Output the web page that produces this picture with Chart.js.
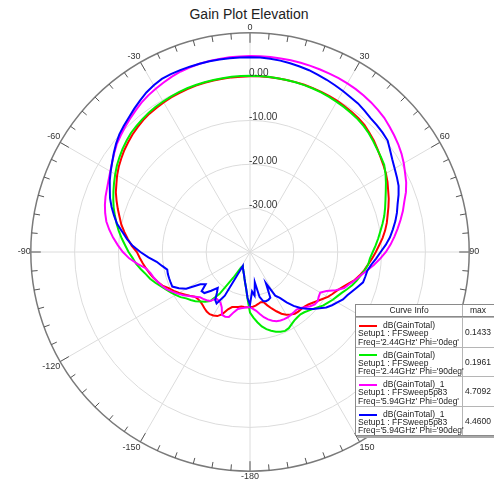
<!DOCTYPE html>
<html>
<head>
<meta charset="utf-8">
<title>Gain Plot Elevation</title>
<script src="https://cdn.jsdelivr.net/npm/chart.js"></script>
<style>
  html, body { margin: 0; padding: 0; background: #fff; overflow: hidden; width: 494px; height: 482px; }
  body { position: relative; font-family: "Liberation Sans", Arial, sans-serif; }
  #title { position: absolute; left: 0; top: 6px; width: 498px; text-align: center; font-size: 14px; color: #222; }
  #wrap { position: absolute; left: 3px; top: 0; width: 494px; height: 500px; }
  #legend { position: absolute; left: 355px; top: 304px; width: 150px; background: #fff;
            border: 1px solid #8a8a8a; box-shadow: 2px 2px 0 #a8a8a8; font-size: 8.5px; color: #222; }
  .head { display: flex; height: 11px; line-height: 11px; border-bottom: 1px solid #8a8a8a; }
  .row { display: flex; height: 28.6px; border-top: 1px solid #b5b5b5; }
  .row:first-of-type { border-top: none; }
  .c1 { width: 107px; border-right: 1px solid #b5b5b5; padding-left: 2px; box-sizing: border-box; }
  .c2 { flex: 1; padding-left: 2px; }
  .head .c1, .head .c2 { text-align: center; padding-left: 0; }
  .head .c2 { width: 30px; flex: none; }
  .row .c1 { padding-top: 3px; line-height: 8.3px; white-space: nowrap; }
  .row .c2 { line-height: 28.6px; }
  .swatch { display: inline-block; width: 18px; height: 2px; vertical-align: middle; margin: 0 6px 0 1px; }
</style>
</head>
<body>
<div id="title">Gain Plot Elevation</div>
<div id="wrap"><canvas id="gainPlot"></canvas></div>
<div id="legend"></div>
<script>
// theta in degrees, -180 .. 177 in 3 degree steps
const angles = [];
for (let a = -180; a < 180; a += 3) angles.push(a);

const ringLabels = [0, -10, -20, -30];

const gainRed = [
  -27.4, -27.4, -27.4, -27.4, -27.2, -27.0, -26.8, -26.0, -24.5, -23.6,
  -23.3, -23.1, -23.2, -23.5, -23.8, -24.0, -24.0, -23.8, -23.0, -22.2,
  -21.3, -20.5, -19.7, -18.6, -17.9, -17.2, -16.6, -16.0, -15.4, -14.8,
  -14.2, -13.0, -12.0, -11.0, -10.0, -9.2, -8.3, -7.4, -6.5, -5.8,
  -5.0, -4.3, -3.7, -3.1, -2.6, -2.1, -1.7, -1.3, -1.0, -0.8,
  -0.6, -0.4, -0.3, -0.2, -0.1, -0.05, 0.0, 0.0, 0.05, 0.05,
  0.1, 0.12, 0.14, 0.14, 0.13, 0.12, 0.1, 0.05, 0.0, -0.1,
  -0.2, -0.35, -0.5, -0.7, -1.0, -1.5, -2.0, -2.6, -3.2, -3.7,
  -4.2, -4.8, -5.5, -6.1, -6.8, -7.5, -8.1, -8.8, -9.6, -10.5,
  -11.3, -12.1, -12.9, -13.6, -14.4, -15.3, -16.5, -17.5, -18.3, -18.9,
  -19.5, -20.3, -21.0, -21.6, -22.1, -22.4, -22.5, -22.5, -22.6, -23.0,
  -23.5, -24.2, -25.2, -26.2, -27.2, -28.2, -28.3, -28.0, -27.7, -27.5
];

const gainGreen = [
  -26.2, -29.3, -31.6, -32.9, -33.9, -34.7, -35.2, -35.7, -36.0, -36.4,
  -36.0, -33.0, -28.2, -25.6, -24.7, -24.0, -23.2, -22.6, -22.0, -21.1,
  -20.4, -19.7, -19.0, -18.2, -17.3, -16.4, -15.7, -14.8, -13.9, -13.2,
  -12.3, -11.5, -10.6, -9.7, -8.9, -8.1, -7.3, -6.6, -5.9, -5.2,
  -4.5, -3.8, -3.2, -2.6, -2.1, -1.6, -1.3, -1.0, -0.7, -0.5,
  -0.35, -0.2, -0.1, 0.0, 0.05, 0.1, 0.12, 0.15, 0.18, 0.19,
  0.2, 0.19, 0.17, 0.15, 0.12, 0.08, 0.03, -0.05, -0.15, -0.3,
  -0.45, -0.6, -0.8, -1.0, -1.3, -1.7, -2.2, -2.7, -3.1, -3.5,
  -4.3, -5.2, -6.1, -6.9, -7.6, -8.3, -9.1, -9.9, -10.6, -11.3,
  -12.0, -12.6, -12.9, -13.5, -14.2, -14.8, -15.5, -16.3, -17.1, -17.7,
  -18.2, -18.8, -19.3, -20.0, -20.6, -21.1, -21.5, -21.7, -21.6, -21.4,
  -21.0, -20.5, -20.3, -20.5, -20.9, -21.4, -22.0, -22.8, -23.9, -25.0
];

const gainMagenta = [
  -27.4, -27.4, -27.2, -27.0, -26.7, -25.8, -24.4, -24.2, -24.3, -25.8,
  -26.6, -26.8, -26.9, -25.6, -25.2, -24.9, -24.6, -23.8, -22.9, -21.9,
  -21.0, -20.1, -19.2, -18.5, -17.9, -17.3, -16.8, -16.0, -14.2, -12.4,
  -11.0, -9.8, -8.6, -7.5, -6.5, -5.8, -5.2, -4.7, -4.3, -3.8,
  -3.2, -2.5, -1.7, -0.9, -0.3, 0.3, 0.9, 1.5, 2.1, 2.6,
  3.0, 3.4, 3.8, 4.1, 4.3, 4.45, 4.55, 4.6, 4.65, 4.68,
  4.7, 4.71, 4.7, 4.7, 4.7, 4.68, 4.65, 4.6, 4.55, 4.5,
  4.4, 4.3, 4.1, 3.9, 3.6, 3.3, 2.8, 2.3, 1.8, 1.2,
  0.5, -0.3, -1.0, -1.9, -3.0, -3.9, -4.9, -5.9, -6.9, -7.9,
  -9.0, -10.3, -11.6, -13.0, -14.2, -15.2, -16.2, -17.0, -18.6, -20.4,
  -21.5, -21.3, -20.9, -21.0, -21.5, -22.2, -22.8, -23.1, -23.0, -22.9,
  -22.8, -22.8, -22.9, -23.1, -23.5, -24.1, -24.8, -25.7, -26.5, -27.0
];

const gainBlue = [
  -28.0, -29.5, -31.6, -32.9, -33.9, -34.7, -35.2, -35.7, -36.0, -36.4,
  -28.5, -26.0, -26.5, -28.0, -29.0, -27.5, -26.0, -25.8, -27.5, -26.5,
  -23.2, -21.8, -20.6, -20.6, -20.6, -20.6, -20.7, -19.7, -18.6, -16.8,
  -15.0, -13.2, -11.8, -10.5, -9.0, -7.9, -6.8, -5.8, -5.0, -4.1,
  -3.3, -2.5, -1.6, -0.7, 0.1, 0.7, 1.3, 2.0, 2.7, 3.4,
  3.9, 4.3, 4.4, 4.45, 4.45, 4.45, 4.46, 4.46, 4.45, 4.45,
  4.45, 4.4, 4.3, 4.2, 4.0, 3.8, 3.6, 3.3, 3.0, 2.7,
  2.4, 2.1, 1.9, 1.5, 1.1, 0.9, 0.7, 0.4, -0.5, -1.3,
  -1.9, -2.4, -2.9, -3.7, -4.6, -5.3, -6.1, -7.0, -7.9, -9.0,
  -10.2, -11.2, -12.2, -12.9, -13.1, -13.3, -14.2, -15.0, -15.7, -16.2,
  -17.0, -17.7, -18.5, -19.6, -20.6, -21.7, -22.8, -24.2, -25.8, -27.5,
  -28.5, -32.0, -28.6, -28.3, -28.2, -28.4, -29.5, -33.0, -30.0, -31.0
];

const curveNames = ["dB(GainTotal)", "dB(GainTotal)", "dB(GainTotal)_1", "dB(GainTotal)_1"];
const setups = ["Setup1 : FFSweep", "Setup1 : FFSweep", "Setup1 : FFSweep5p83", "Setup1 : FFSweep5p83"];
const freqs = ["Freq='2.44GHz' Phi='0deg'", "Freq='2.44GHz' Phi='90deg'",
               "Freq='5.94GHz' Phi='0deg'", "Freq='5.94GHz' Phi='90deg'"];
const maxValues = ["0.1433", "0.1961", "4.7092", "4.4600"];
const colors = ["#ff0000", "#00ee00", "#ff00ff", "#0000ff"];
const series = [gainRed, gainGreen, gainMagenta, gainBlue];

// legend box, HFSS style
let html = '<div class="head"><div class="c1">Curve Info</div><div class="c2">max</div></div>';
for (let i = 0; i < series.length; i++) {
  html += '<div class="row"><div class="c1"><span class="swatch" style="background:' + colors[i] + '"></span>' +
    curveNames[i] + '<br>' + setups[i] + '<br>' + freqs[i] + '</div><div class="c2">' + maxValues[i] + '</div></div>';
}
document.getElementById("legend").innerHTML = html;

// outer ring ticks + dB labels on the 0 deg spoke
const polarExtras = {
  id: "polarExtras",
  afterDatasetsDraw(chart) {
    const s = chart.scales.r;
    const ctx = chart.ctx;
    ctx.save();
    ctx.strokeStyle = "#555";
    ctx.lineWidth = 1;
    for (let a = 0; a < 360; a += 5) {
      const len = a % 30 === 0 ? 10 : 6;
      const rad = a * Math.PI / 180;
      const r0 = s.drawingArea, r1 = r0 - len;
      ctx.beginPath();
      ctx.moveTo(s.xCenter + r0 * Math.sin(rad), s.yCenter - r0 * Math.cos(rad));
      ctx.lineTo(s.xCenter + r1 * Math.sin(rad), s.yCenter - r1 * Math.cos(rad));
      ctx.stroke();
    }
    ctx.font = '10px "Liberation Sans", Arial, sans-serif';
    ctx.fillStyle = "#333";
    ctx.textAlign = "left";
    ctx.textBaseline = "middle";
    ringLabels.forEach(v => {
      const d = s.getDistanceFromCenterForValue(v);
      ctx.fillText(v.toFixed(2), s.xCenter - 1, s.yCenter - d - 3);
    });
    ctx.restore();
  }
};

const gainPlot = new Chart(document.getElementById("gainPlot"), {
  type: "radar",
  data: {
    labels: angles,
    datasets: series.map((d, i) => ({
      label: curveNames[i] + " " + freqs[i],
      data: d,
      borderColor: colors[i],
      borderWidth: 2,
      fill: false,
      tension: 0,
      pointRadius: 0,
      pointHitRadius: 0,
      order: series.length - i
    }))
  },
  options: {
    responsive: true,
    maintainAspectRatio: false,
    animation: false,
    events: [],
    layout: { padding: { top: 23, bottom: 17, left: 0, right: 0 } },
    plugins: { legend: { display: false }, tooltip: { enabled: false } },
    scales: {
      r: {
        min: -40,
        max: 10,
        startAngle: 180,
        ticks: { display: false, stepSize: 10 },
        grid: {
          circular: true,
          color: ctx => ctx.tick.value === 10 ? "#7a7a7a" : "#dcdcdc",
          lineWidth: ctx => ctx.tick.value === 10 ? 1.5 : 1
        },
        angleLines: {
          color: "#dcdcdc",
          lineWidth: ctx => ctx.index % 10 === 0 ? 1 : 0
        },
        pointLabels: {
          padding: 0,
          color: "#333",
          font: { family: '"Liberation Sans", Arial, sans-serif', size: 9 },
          callback: (label) => label % 30 === 0 ? String(label) : ""
        }
      }
    }
  },
  plugins: [polarExtras]
});
</script>
</body>
</html>
